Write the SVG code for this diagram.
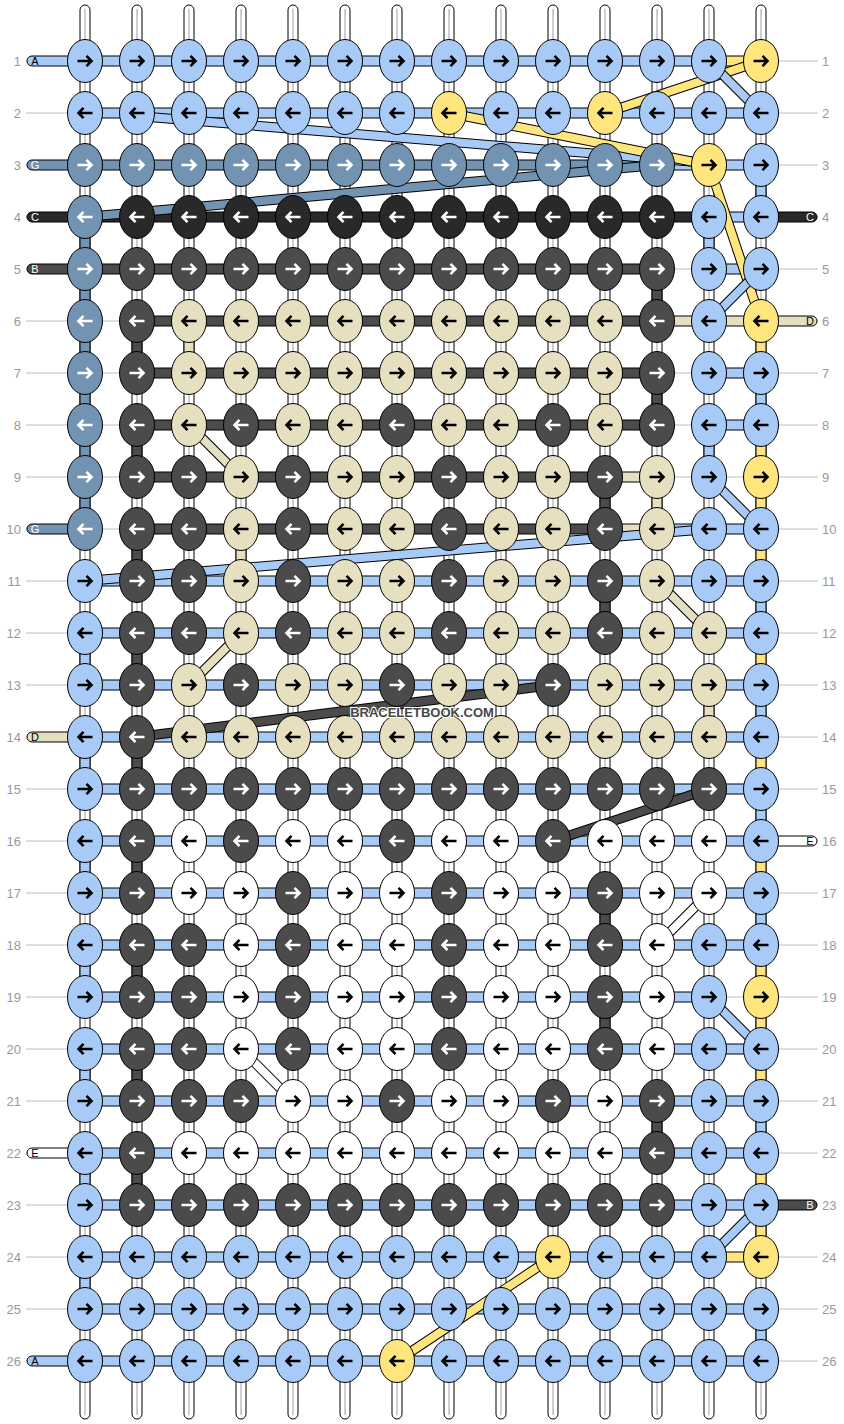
<svg xmlns="http://www.w3.org/2000/svg" xmlns:xlink="http://www.w3.org/1999/xlink" width="844" height="1424" viewBox="0 0 844 1424">
<style>
.A{fill:#a7cbf6}.Y{fill:#ffe57e}.G{fill:#7393b3}.C{fill:#292929}.B{fill:#4b4b4b}.D{fill:#e6dfc0}.E{fill:#fff}
ellipse{rx:17.5px;ry:21.5px;stroke:#000;stroke-width:1}
.s{stroke:#000;stroke-width:1}
use{stroke:#000}use.w{stroke:#fff}
.gl{stroke:#bdbdbd;stroke-width:1;fill:none}
.cl{stroke:#cfcfcf;stroke-width:2;fill:none}
.o{stroke:#000;stroke-width:10}
.sA{stroke:#a7cbf6;stroke-width:8}.sY{stroke:#ffe57e;stroke-width:8}.sG{stroke:#7393b3;stroke-width:8}.sB{stroke:#4b4b4b;stroke-width:8}.sD{stroke:#e6dfc0;stroke-width:8}.sE{stroke:#fff;stroke-width:8}
.num{font-family:"Liberation Sans",Arial,sans-serif;font-size:13px;fill:#999}
.lt{font-family:"Liberation Sans",Arial,sans-serif;font-size:11px;text-anchor:middle}
</style>
<defs>
<path id="R" d="M-7.5 0H6M1.5-5.2 6.5 0 1.5 5.2" fill="none" stroke-width="2.6"/>
<path id="L" d="M7.5 0H-6M-1.5-5.2-6.5 0-1.5 5.2" fill="none" stroke-width="2.6"/>
</defs>
<g id="warps">
<rect class="E s" x="80" y="5" width="10" height="1414" rx="5"/>
<rect class="E s" x="132" y="5" width="10" height="1414" rx="5"/>
<rect class="E s" x="184" y="5" width="10" height="1414" rx="5"/>
<rect class="E s" x="236" y="5" width="10" height="1414" rx="5"/>
<rect class="E s" x="288" y="5" width="10" height="1414" rx="5"/>
<rect class="E s" x="340" y="5" width="10" height="1414" rx="5"/>
<rect class="E s" x="392" y="5" width="10" height="1414" rx="5"/>
<rect class="E s" x="444" y="5" width="10" height="1414" rx="5"/>
<rect class="E s" x="496" y="5" width="10" height="1414" rx="5"/>
<rect class="E s" x="548" y="5" width="10" height="1414" rx="5"/>
<rect class="E s" x="600" y="5" width="10" height="1414" rx="5"/>
<rect class="E s" x="652" y="5" width="10" height="1414" rx="5"/>
<rect class="E s" x="704" y="5" width="10" height="1414" rx="5"/>
<rect class="E s" x="756" y="5" width="10" height="1414" rx="5"/>
<path class="cl" d="M85 9V1415M137 9V1415M189 9V1415M241 9V1415M293 9V1415M345 9V1415M397 9V1415M449 9V1415M501 9V1415M553 9V1415M605 9V1415M657 9V1415M709 9V1415M761 9V1415"/>
</g>
<g id="connectors">
<path class="gl" d="M26 61H818M26 113H818M26 165H818M26 217H818M26 269H818M26 321H818M26 373H818M26 425H818M26 477H818M26 529H818M26 581H818M26 633H818M26 685H818M26 737H818M26 789H818M26 841H818M26 893H818M26 945H818M26 997H818M26 1049H818M26 1101H818M26 1153H818M26 1205H818M26 1257H818M26 1309H818M26 1361H818"/>
<rect class="A s" x="27" y="56" width="682" height="10" rx="5"/>
<rect class="Y s" x="709" y="56" width="52" height="10"/>
<rect class="A s" x="85" y="108" width="676" height="10"/>
<rect class="G s" x="27" y="160" width="630" height="10" rx="5"/>
<rect class="A s" x="657" y="160" width="104" height="10"/>
<rect class="C s" x="27" y="212" width="682" height="10" rx="5"/>
<rect class="A s" x="709" y="212" width="52" height="10"/>
<rect class="C s" x="755" y="212" width="62" height="10" rx="5"/>
<rect class="B s" x="27" y="264" width="630" height="10" rx="5"/>
<rect class="A s" x="709" y="264" width="52" height="10"/>
<rect class="B s" x="137" y="316" width="520" height="10"/>
<rect class="D s" x="657" y="316" width="160" height="10" rx="5"/>
<rect class="B s" x="137" y="368" width="520" height="10"/>
<rect class="A s" x="709" y="368" width="52" height="10"/>
<rect class="B s" x="137" y="420" width="520" height="10"/>
<rect class="A s" x="709" y="420" width="52" height="10"/>
<rect class="B s" x="137" y="472" width="468" height="10"/>
<rect class="D s" x="605" y="472" width="52" height="10"/>
<rect class="G s" x="27" y="524" width="60" height="10" rx="5"/>
<rect class="B s" x="137" y="524" width="468" height="10"/>
<rect class="D s" x="605" y="524" width="52" height="10"/>
<rect class="A s" x="657" y="524" width="104" height="10"/>
<rect class="A s" x="85" y="576" width="676" height="10"/>
<rect class="A s" x="85" y="628" width="676" height="10"/>
<rect class="A s" x="85" y="680" width="676" height="10"/>
<rect class="D s" x="27" y="732" width="60" height="10" rx="5"/>
<rect class="A s" x="85" y="732" width="676" height="10"/>
<rect class="A s" x="85" y="784" width="676" height="10"/>
<rect class="A s" x="85" y="836" width="676" height="10"/>
<rect class="E s" x="755" y="836" width="62" height="10" rx="5"/>
<rect class="A s" x="85" y="888" width="676" height="10"/>
<rect class="A s" x="85" y="940" width="676" height="10"/>
<rect class="A s" x="85" y="992" width="624" height="10"/>
<rect class="A s" x="85" y="1044" width="676" height="10"/>
<rect class="A s" x="85" y="1096" width="676" height="10"/>
<rect class="E s" x="27" y="1148" width="60" height="10" rx="5"/>
<rect class="A s" x="85" y="1148" width="676" height="10"/>
<rect class="A s" x="85" y="1200" width="676" height="10"/>
<rect class="B s" x="755" y="1200" width="62" height="10" rx="5"/>
<rect class="A s" x="85" y="1252" width="624" height="10"/>
<rect class="Y s" x="709" y="1252" width="52" height="10"/>
<rect class="A s" x="85" y="1304" width="676" height="10"/>
<rect class="A s" x="27" y="1356" width="734" height="10" rx="5"/>
<rect class="G s" x="80" y="217" width="10" height="312"/>
<rect class="A s" x="80" y="633" width="10" height="52"/>
<rect class="A s" x="80" y="737" width="10" height="52"/>
<rect class="A s" x="80" y="841" width="10" height="52"/>
<rect class="A s" x="80" y="945" width="10" height="52"/>
<rect class="A s" x="80" y="1049" width="10" height="52"/>
<rect class="A s" x="80" y="1153" width="10" height="52"/>
<rect class="A s" x="80" y="1257" width="10" height="52"/>
<rect class="B s" x="132" y="321" width="10" height="52"/>
<rect class="B s" x="132" y="425" width="10" height="52"/>
<rect class="B s" x="132" y="529" width="10" height="52"/>
<rect class="B s" x="132" y="633" width="10" height="52"/>
<rect class="B s" x="132" y="737" width="10" height="52"/>
<rect class="B s" x="132" y="841" width="10" height="52"/>
<rect class="B s" x="132" y="945" width="10" height="52"/>
<rect class="B s" x="132" y="1049" width="10" height="52"/>
<rect class="B s" x="132" y="1153" width="10" height="52"/>
<rect class="D s" x="184" y="321" width="10" height="52"/>
<rect class="D s" x="236" y="529" width="10" height="52"/>
<rect class="D s" x="600" y="373" width="10" height="52"/>
<rect class="B s" x="600" y="477" width="10" height="52"/>
<rect class="B s" x="600" y="581" width="10" height="52"/>
<rect class="B s" x="600" y="893" width="10" height="52"/>
<rect class="B s" x="600" y="997" width="10" height="52"/>
<rect class="B s" x="652" y="269" width="10" height="52"/>
<rect class="B s" x="652" y="373" width="10" height="52"/>
<rect class="B s" x="652" y="1101" width="10" height="52"/>
<rect class="D s" x="652" y="477" width="10" height="52"/>
<rect class="A s" x="704" y="217" width="10" height="52"/>
<rect class="A s" x="704" y="425" width="10" height="52"/>
<rect class="D s" x="704" y="685" width="10" height="52"/>
<rect class="A s" x="756" y="165" width="10" height="52"/>
<rect class="A s" x="756" y="373" width="10" height="52"/>
<rect class="A s" x="756" y="581" width="10" height="52"/>
<rect class="A s" x="756" y="685" width="10" height="52"/>
<rect class="A s" x="756" y="789" width="10" height="52"/>
<rect class="A s" x="756" y="893" width="10" height="52"/>
<rect class="A s" x="756" y="1101" width="10" height="52"/>
<rect class="A s" x="756" y="1309" width="10" height="52"/>
<rect class="Y s" x="756" y="321" width="10" height="52"/>
<rect class="Y s" x="756" y="425" width="10" height="156"/>
<rect class="Y s" x="756" y="633" width="10" height="52"/>
<rect class="Y s" x="756" y="737" width="10" height="52"/>
<rect class="Y s" x="756" y="841" width="10" height="52"/>
<rect class="Y s" x="756" y="945" width="10" height="156"/>
<rect class="Y s" x="756" y="1153" width="10" height="104"/>
<line class="o" x1="761" y1="61" x2="605" y2="113"/><line class="sY" x1="761" y1="61" x2="605" y2="113"/>
<line class="o" x1="709" y1="61" x2="761" y2="113"/><line class="sA" x1="709" y1="61" x2="761" y2="113"/>
<line class="o" x1="137" y1="116" x2="709" y2="163"/><line class="sA" x1="137" y1="116" x2="709" y2="163"/>
<line class="o" x1="449" y1="113" x2="709" y2="165"/><line class="sY" x1="449" y1="113" x2="709" y2="165"/>
<line class="o" x1="657" y1="165" x2="85" y2="217"/><line class="sG" x1="657" y1="165" x2="85" y2="217"/>
<line class="o" x1="709" y1="165" x2="761" y2="321"/><line class="sY" x1="709" y1="165" x2="761" y2="321"/>
<line class="o" x1="761" y1="269" x2="709" y2="321"/><line class="sA" x1="761" y1="269" x2="709" y2="321"/>
<line class="o" x1="189" y1="425" x2="241" y2="477"/><line class="sD" x1="189" y1="425" x2="241" y2="477"/>
<line class="o" x1="709" y1="477" x2="761" y2="529"/><line class="sA" x1="709" y1="477" x2="761" y2="529"/>
<line class="o" x1="709" y1="529" x2="85" y2="581"/><line class="sA" x1="709" y1="529" x2="85" y2="581"/>
<line class="o" x1="657" y1="581" x2="709" y2="633"/><line class="sD" x1="657" y1="581" x2="709" y2="633"/>
<line class="o" x1="241" y1="633" x2="189" y2="685"/><line class="sD" x1="241" y1="633" x2="189" y2="685"/>
<line class="o" x1="137" y1="737" x2="553" y2="685"/><line class="sB" x1="137" y1="737" x2="553" y2="685"/>
<line class="o" x1="709" y1="789" x2="553" y2="841"/><line class="sB" x1="709" y1="789" x2="553" y2="841"/>
<line class="o" x1="709" y1="893" x2="657" y2="945"/><line class="sE" x1="709" y1="893" x2="657" y2="945"/>
<line class="o" x1="709" y1="997" x2="761" y2="1049"/><line class="sA" x1="709" y1="997" x2="761" y2="1049"/>
<line class="o" x1="241" y1="1049" x2="293" y2="1101"/><line class="sE" x1="241" y1="1049" x2="293" y2="1101"/>
<line class="o" x1="761" y1="1205" x2="709" y2="1257"/><line class="sA" x1="761" y1="1205" x2="709" y2="1257"/>
<line class="o" x1="553" y1="1257" x2="397" y2="1361"/><line class="sY" x1="553" y1="1257" x2="397" y2="1361"/>
</g>
<g id="knots">
<g id="row1" transform="translate(0 61)">
<g id="k1-1"><ellipse class="A" cx="85"/><use href="#R" x="85"/></g>
<g id="k1-2"><ellipse class="A" cx="137"/><use href="#R" x="137"/></g>
<g id="k1-3"><ellipse class="A" cx="189"/><use href="#R" x="189"/></g>
<g id="k1-4"><ellipse class="A" cx="241"/><use href="#R" x="241"/></g>
<g id="k1-5"><ellipse class="A" cx="293"/><use href="#R" x="293"/></g>
<g id="k1-6"><ellipse class="A" cx="345"/><use href="#R" x="345"/></g>
<g id="k1-7"><ellipse class="A" cx="397"/><use href="#R" x="397"/></g>
<g id="k1-8"><ellipse class="A" cx="449"/><use href="#R" x="449"/></g>
<g id="k1-9"><ellipse class="A" cx="501"/><use href="#R" x="501"/></g>
<g id="k1-10"><ellipse class="A" cx="553"/><use href="#R" x="553"/></g>
<g id="k1-11"><ellipse class="A" cx="605"/><use href="#R" x="605"/></g>
<g id="k1-12"><ellipse class="A" cx="657"/><use href="#R" x="657"/></g>
<g id="k1-13"><ellipse class="A" cx="709"/><use href="#R" x="709"/></g>
<g id="k1-14"><ellipse class="Y" cx="761"/><use href="#R" x="761"/></g>
</g>
<g id="row2" transform="translate(0 113)">
<g id="k2-1"><ellipse class="A" cx="85"/><use href="#L" x="85"/></g>
<g id="k2-2"><ellipse class="A" cx="137"/><use href="#L" x="137"/></g>
<g id="k2-3"><ellipse class="A" cx="189"/><use href="#L" x="189"/></g>
<g id="k2-4"><ellipse class="A" cx="241"/><use href="#L" x="241"/></g>
<g id="k2-5"><ellipse class="A" cx="293"/><use href="#L" x="293"/></g>
<g id="k2-6"><ellipse class="A" cx="345"/><use href="#L" x="345"/></g>
<g id="k2-7"><ellipse class="A" cx="397"/><use href="#L" x="397"/></g>
<g id="k2-8"><ellipse class="Y" cx="449"/><use href="#L" x="449"/></g>
<g id="k2-9"><ellipse class="A" cx="501"/><use href="#L" x="501"/></g>
<g id="k2-10"><ellipse class="A" cx="553"/><use href="#L" x="553"/></g>
<g id="k2-11"><ellipse class="Y" cx="605"/><use href="#L" x="605"/></g>
<g id="k2-12"><ellipse class="A" cx="657"/><use href="#L" x="657"/></g>
<g id="k2-13"><ellipse class="A" cx="709"/><use href="#L" x="709"/></g>
<g id="k2-14"><ellipse class="A" cx="761"/><use href="#L" x="761"/></g>
</g>
<g id="row3" transform="translate(0 165)">
<g id="k3-1"><ellipse class="G" cx="85"/><use class="w" href="#R" x="85"/></g>
<g id="k3-2"><ellipse class="G" cx="137"/><use class="w" href="#R" x="137"/></g>
<g id="k3-3"><ellipse class="G" cx="189"/><use class="w" href="#R" x="189"/></g>
<g id="k3-4"><ellipse class="G" cx="241"/><use class="w" href="#R" x="241"/></g>
<g id="k3-5"><ellipse class="G" cx="293"/><use class="w" href="#R" x="293"/></g>
<g id="k3-6"><ellipse class="G" cx="345"/><use class="w" href="#R" x="345"/></g>
<g id="k3-7"><ellipse class="G" cx="397"/><use class="w" href="#R" x="397"/></g>
<g id="k3-8"><ellipse class="G" cx="449"/><use class="w" href="#R" x="449"/></g>
<g id="k3-9"><ellipse class="G" cx="501"/><use class="w" href="#R" x="501"/></g>
<g id="k3-10"><ellipse class="G" cx="553"/><use class="w" href="#R" x="553"/></g>
<g id="k3-11"><ellipse class="G" cx="605"/><use class="w" href="#R" x="605"/></g>
<g id="k3-12"><ellipse class="G" cx="657"/><use class="w" href="#R" x="657"/></g>
<g id="k3-13"><ellipse class="Y" cx="709"/><use href="#R" x="709"/></g>
<g id="k3-14"><ellipse class="A" cx="761"/><use href="#R" x="761"/></g>
</g>
<g id="row4" transform="translate(0 217)">
<g id="k4-1"><ellipse class="G" cx="85"/><use class="w" href="#L" x="85"/></g>
<g id="k4-2"><ellipse class="C" cx="137"/><use class="w" href="#L" x="137"/></g>
<g id="k4-3"><ellipse class="C" cx="189"/><use class="w" href="#L" x="189"/></g>
<g id="k4-4"><ellipse class="C" cx="241"/><use class="w" href="#L" x="241"/></g>
<g id="k4-5"><ellipse class="C" cx="293"/><use class="w" href="#L" x="293"/></g>
<g id="k4-6"><ellipse class="C" cx="345"/><use class="w" href="#L" x="345"/></g>
<g id="k4-7"><ellipse class="C" cx="397"/><use class="w" href="#L" x="397"/></g>
<g id="k4-8"><ellipse class="C" cx="449"/><use class="w" href="#L" x="449"/></g>
<g id="k4-9"><ellipse class="C" cx="501"/><use class="w" href="#L" x="501"/></g>
<g id="k4-10"><ellipse class="C" cx="553"/><use class="w" href="#L" x="553"/></g>
<g id="k4-11"><ellipse class="C" cx="605"/><use class="w" href="#L" x="605"/></g>
<g id="k4-12"><ellipse class="C" cx="657"/><use class="w" href="#L" x="657"/></g>
<g id="k4-13"><ellipse class="A" cx="709"/><use href="#L" x="709"/></g>
<g id="k4-14"><ellipse class="A" cx="761"/><use href="#L" x="761"/></g>
</g>
<g id="row5" transform="translate(0 269)">
<g id="k5-1"><ellipse class="G" cx="85"/><use class="w" href="#R" x="85"/></g>
<g id="k5-2"><ellipse class="B" cx="137"/><use class="w" href="#R" x="137"/></g>
<g id="k5-3"><ellipse class="B" cx="189"/><use class="w" href="#R" x="189"/></g>
<g id="k5-4"><ellipse class="B" cx="241"/><use class="w" href="#R" x="241"/></g>
<g id="k5-5"><ellipse class="B" cx="293"/><use class="w" href="#R" x="293"/></g>
<g id="k5-6"><ellipse class="B" cx="345"/><use class="w" href="#R" x="345"/></g>
<g id="k5-7"><ellipse class="B" cx="397"/><use class="w" href="#R" x="397"/></g>
<g id="k5-8"><ellipse class="B" cx="449"/><use class="w" href="#R" x="449"/></g>
<g id="k5-9"><ellipse class="B" cx="501"/><use class="w" href="#R" x="501"/></g>
<g id="k5-10"><ellipse class="B" cx="553"/><use class="w" href="#R" x="553"/></g>
<g id="k5-11"><ellipse class="B" cx="605"/><use class="w" href="#R" x="605"/></g>
<g id="k5-12"><ellipse class="B" cx="657"/><use class="w" href="#R" x="657"/></g>
<g id="k5-13"><ellipse class="A" cx="709"/><use href="#R" x="709"/></g>
<g id="k5-14"><ellipse class="A" cx="761"/><use href="#R" x="761"/></g>
</g>
<g id="row6" transform="translate(0 321)">
<g id="k6-1"><ellipse class="G" cx="85"/><use class="w" href="#L" x="85"/></g>
<g id="k6-2"><ellipse class="B" cx="137"/><use class="w" href="#L" x="137"/></g>
<g id="k6-3"><ellipse class="D" cx="189"/><use href="#L" x="189"/></g>
<g id="k6-4"><ellipse class="D" cx="241"/><use href="#L" x="241"/></g>
<g id="k6-5"><ellipse class="D" cx="293"/><use href="#L" x="293"/></g>
<g id="k6-6"><ellipse class="D" cx="345"/><use href="#L" x="345"/></g>
<g id="k6-7"><ellipse class="D" cx="397"/><use href="#L" x="397"/></g>
<g id="k6-8"><ellipse class="D" cx="449"/><use href="#L" x="449"/></g>
<g id="k6-9"><ellipse class="D" cx="501"/><use href="#L" x="501"/></g>
<g id="k6-10"><ellipse class="D" cx="553"/><use href="#L" x="553"/></g>
<g id="k6-11"><ellipse class="D" cx="605"/><use href="#L" x="605"/></g>
<g id="k6-12"><ellipse class="B" cx="657"/><use class="w" href="#L" x="657"/></g>
<g id="k6-13"><ellipse class="A" cx="709"/><use href="#L" x="709"/></g>
<g id="k6-14"><ellipse class="Y" cx="761"/><use href="#L" x="761"/></g>
</g>
<g id="row7" transform="translate(0 373)">
<g id="k7-1"><ellipse class="G" cx="85"/><use class="w" href="#R" x="85"/></g>
<g id="k7-2"><ellipse class="B" cx="137"/><use class="w" href="#R" x="137"/></g>
<g id="k7-3"><ellipse class="D" cx="189"/><use href="#R" x="189"/></g>
<g id="k7-4"><ellipse class="D" cx="241"/><use href="#R" x="241"/></g>
<g id="k7-5"><ellipse class="D" cx="293"/><use href="#R" x="293"/></g>
<g id="k7-6"><ellipse class="D" cx="345"/><use href="#R" x="345"/></g>
<g id="k7-7"><ellipse class="D" cx="397"/><use href="#R" x="397"/></g>
<g id="k7-8"><ellipse class="D" cx="449"/><use href="#R" x="449"/></g>
<g id="k7-9"><ellipse class="D" cx="501"/><use href="#R" x="501"/></g>
<g id="k7-10"><ellipse class="D" cx="553"/><use href="#R" x="553"/></g>
<g id="k7-11"><ellipse class="D" cx="605"/><use href="#R" x="605"/></g>
<g id="k7-12"><ellipse class="B" cx="657"/><use class="w" href="#R" x="657"/></g>
<g id="k7-13"><ellipse class="A" cx="709"/><use href="#R" x="709"/></g>
<g id="k7-14"><ellipse class="A" cx="761"/><use href="#R" x="761"/></g>
</g>
<g id="row8" transform="translate(0 425)">
<g id="k8-1"><ellipse class="G" cx="85"/><use class="w" href="#L" x="85"/></g>
<g id="k8-2"><ellipse class="B" cx="137"/><use class="w" href="#L" x="137"/></g>
<g id="k8-3"><ellipse class="D" cx="189"/><use href="#L" x="189"/></g>
<g id="k8-4"><ellipse class="B" cx="241"/><use class="w" href="#L" x="241"/></g>
<g id="k8-5"><ellipse class="D" cx="293"/><use href="#L" x="293"/></g>
<g id="k8-6"><ellipse class="D" cx="345"/><use href="#L" x="345"/></g>
<g id="k8-7"><ellipse class="B" cx="397"/><use class="w" href="#L" x="397"/></g>
<g id="k8-8"><ellipse class="D" cx="449"/><use href="#L" x="449"/></g>
<g id="k8-9"><ellipse class="D" cx="501"/><use href="#L" x="501"/></g>
<g id="k8-10"><ellipse class="B" cx="553"/><use class="w" href="#L" x="553"/></g>
<g id="k8-11"><ellipse class="D" cx="605"/><use href="#L" x="605"/></g>
<g id="k8-12"><ellipse class="B" cx="657"/><use class="w" href="#L" x="657"/></g>
<g id="k8-13"><ellipse class="A" cx="709"/><use href="#L" x="709"/></g>
<g id="k8-14"><ellipse class="A" cx="761"/><use href="#L" x="761"/></g>
</g>
<g id="row9" transform="translate(0 477)">
<g id="k9-1"><ellipse class="G" cx="85"/><use class="w" href="#R" x="85"/></g>
<g id="k9-2"><ellipse class="B" cx="137"/><use class="w" href="#R" x="137"/></g>
<g id="k9-3"><ellipse class="B" cx="189"/><use class="w" href="#R" x="189"/></g>
<g id="k9-4"><ellipse class="D" cx="241"/><use href="#R" x="241"/></g>
<g id="k9-5"><ellipse class="B" cx="293"/><use class="w" href="#R" x="293"/></g>
<g id="k9-6"><ellipse class="D" cx="345"/><use href="#R" x="345"/></g>
<g id="k9-7"><ellipse class="D" cx="397"/><use href="#R" x="397"/></g>
<g id="k9-8"><ellipse class="B" cx="449"/><use class="w" href="#R" x="449"/></g>
<g id="k9-9"><ellipse class="D" cx="501"/><use href="#R" x="501"/></g>
<g id="k9-10"><ellipse class="D" cx="553"/><use href="#R" x="553"/></g>
<g id="k9-11"><ellipse class="B" cx="605"/><use class="w" href="#R" x="605"/></g>
<g id="k9-12"><ellipse class="D" cx="657"/><use href="#R" x="657"/></g>
<g id="k9-13"><ellipse class="A" cx="709"/><use href="#R" x="709"/></g>
<g id="k9-14"><ellipse class="Y" cx="761"/><use href="#R" x="761"/></g>
</g>
<g id="row10" transform="translate(0 529)">
<g id="k10-1"><ellipse class="G" cx="85"/><use class="w" href="#L" x="85"/></g>
<g id="k10-2"><ellipse class="B" cx="137"/><use class="w" href="#L" x="137"/></g>
<g id="k10-3"><ellipse class="B" cx="189"/><use class="w" href="#L" x="189"/></g>
<g id="k10-4"><ellipse class="D" cx="241"/><use href="#L" x="241"/></g>
<g id="k10-5"><ellipse class="B" cx="293"/><use class="w" href="#L" x="293"/></g>
<g id="k10-6"><ellipse class="D" cx="345"/><use href="#L" x="345"/></g>
<g id="k10-7"><ellipse class="D" cx="397"/><use href="#L" x="397"/></g>
<g id="k10-8"><ellipse class="B" cx="449"/><use class="w" href="#L" x="449"/></g>
<g id="k10-9"><ellipse class="D" cx="501"/><use href="#L" x="501"/></g>
<g id="k10-10"><ellipse class="D" cx="553"/><use href="#L" x="553"/></g>
<g id="k10-11"><ellipse class="B" cx="605"/><use class="w" href="#L" x="605"/></g>
<g id="k10-12"><ellipse class="D" cx="657"/><use href="#L" x="657"/></g>
<g id="k10-13"><ellipse class="A" cx="709"/><use href="#L" x="709"/></g>
<g id="k10-14"><ellipse class="A" cx="761"/><use href="#L" x="761"/></g>
</g>
<g id="row11" transform="translate(0 581)">
<g id="k11-1"><ellipse class="A" cx="85"/><use href="#R" x="85"/></g>
<g id="k11-2"><ellipse class="B" cx="137"/><use class="w" href="#R" x="137"/></g>
<g id="k11-3"><ellipse class="B" cx="189"/><use class="w" href="#R" x="189"/></g>
<g id="k11-4"><ellipse class="D" cx="241"/><use href="#R" x="241"/></g>
<g id="k11-5"><ellipse class="B" cx="293"/><use class="w" href="#R" x="293"/></g>
<g id="k11-6"><ellipse class="D" cx="345"/><use href="#R" x="345"/></g>
<g id="k11-7"><ellipse class="D" cx="397"/><use href="#R" x="397"/></g>
<g id="k11-8"><ellipse class="B" cx="449"/><use class="w" href="#R" x="449"/></g>
<g id="k11-9"><ellipse class="D" cx="501"/><use href="#R" x="501"/></g>
<g id="k11-10"><ellipse class="D" cx="553"/><use href="#R" x="553"/></g>
<g id="k11-11"><ellipse class="B" cx="605"/><use class="w" href="#R" x="605"/></g>
<g id="k11-12"><ellipse class="D" cx="657"/><use href="#R" x="657"/></g>
<g id="k11-13"><ellipse class="A" cx="709"/><use href="#R" x="709"/></g>
<g id="k11-14"><ellipse class="A" cx="761"/><use href="#R" x="761"/></g>
</g>
<g id="row12" transform="translate(0 633)">
<g id="k12-1"><ellipse class="A" cx="85"/><use href="#L" x="85"/></g>
<g id="k12-2"><ellipse class="B" cx="137"/><use class="w" href="#L" x="137"/></g>
<g id="k12-3"><ellipse class="B" cx="189"/><use class="w" href="#L" x="189"/></g>
<g id="k12-4"><ellipse class="D" cx="241"/><use href="#L" x="241"/></g>
<g id="k12-5"><ellipse class="B" cx="293"/><use class="w" href="#L" x="293"/></g>
<g id="k12-6"><ellipse class="D" cx="345"/><use href="#L" x="345"/></g>
<g id="k12-7"><ellipse class="D" cx="397"/><use href="#L" x="397"/></g>
<g id="k12-8"><ellipse class="B" cx="449"/><use class="w" href="#L" x="449"/></g>
<g id="k12-9"><ellipse class="D" cx="501"/><use href="#L" x="501"/></g>
<g id="k12-10"><ellipse class="D" cx="553"/><use href="#L" x="553"/></g>
<g id="k12-11"><ellipse class="B" cx="605"/><use class="w" href="#L" x="605"/></g>
<g id="k12-12"><ellipse class="D" cx="657"/><use href="#L" x="657"/></g>
<g id="k12-13"><ellipse class="D" cx="709"/><use href="#L" x="709"/></g>
<g id="k12-14"><ellipse class="A" cx="761"/><use href="#L" x="761"/></g>
</g>
<g id="row13" transform="translate(0 685)">
<g id="k13-1"><ellipse class="A" cx="85"/><use href="#R" x="85"/></g>
<g id="k13-2"><ellipse class="B" cx="137"/><use class="w" href="#R" x="137"/></g>
<g id="k13-3"><ellipse class="D" cx="189"/><use href="#R" x="189"/></g>
<g id="k13-4"><ellipse class="B" cx="241"/><use class="w" href="#R" x="241"/></g>
<g id="k13-5"><ellipse class="D" cx="293"/><use href="#R" x="293"/></g>
<g id="k13-6"><ellipse class="D" cx="345"/><use href="#R" x="345"/></g>
<g id="k13-7"><ellipse class="B" cx="397"/><use class="w" href="#R" x="397"/></g>
<g id="k13-8"><ellipse class="D" cx="449"/><use href="#R" x="449"/></g>
<g id="k13-9"><ellipse class="D" cx="501"/><use href="#R" x="501"/></g>
<g id="k13-10"><ellipse class="B" cx="553"/><use class="w" href="#R" x="553"/></g>
<g id="k13-11"><ellipse class="D" cx="605"/><use href="#R" x="605"/></g>
<g id="k13-12"><ellipse class="D" cx="657"/><use href="#R" x="657"/></g>
<g id="k13-13"><ellipse class="D" cx="709"/><use href="#R" x="709"/></g>
<g id="k13-14"><ellipse class="A" cx="761"/><use href="#R" x="761"/></g>
</g>
<g id="row14" transform="translate(0 737)">
<g id="k14-1"><ellipse class="A" cx="85"/><use href="#L" x="85"/></g>
<g id="k14-2"><ellipse class="B" cx="137"/><use class="w" href="#L" x="137"/></g>
<g id="k14-3"><ellipse class="D" cx="189"/><use href="#L" x="189"/></g>
<g id="k14-4"><ellipse class="D" cx="241"/><use href="#L" x="241"/></g>
<g id="k14-5"><ellipse class="D" cx="293"/><use href="#L" x="293"/></g>
<g id="k14-6"><ellipse class="D" cx="345"/><use href="#L" x="345"/></g>
<g id="k14-7"><ellipse class="D" cx="397"/><use href="#L" x="397"/></g>
<g id="k14-8"><ellipse class="D" cx="449"/><use href="#L" x="449"/></g>
<g id="k14-9"><ellipse class="D" cx="501"/><use href="#L" x="501"/></g>
<g id="k14-10"><ellipse class="D" cx="553"/><use href="#L" x="553"/></g>
<g id="k14-11"><ellipse class="D" cx="605"/><use href="#L" x="605"/></g>
<g id="k14-12"><ellipse class="D" cx="657"/><use href="#L" x="657"/></g>
<g id="k14-13"><ellipse class="D" cx="709"/><use href="#L" x="709"/></g>
<g id="k14-14"><ellipse class="A" cx="761"/><use href="#L" x="761"/></g>
</g>
<g id="row15" transform="translate(0 789)">
<g id="k15-1"><ellipse class="A" cx="85"/><use href="#R" x="85"/></g>
<g id="k15-2"><ellipse class="B" cx="137"/><use class="w" href="#R" x="137"/></g>
<g id="k15-3"><ellipse class="B" cx="189"/><use class="w" href="#R" x="189"/></g>
<g id="k15-4"><ellipse class="B" cx="241"/><use class="w" href="#R" x="241"/></g>
<g id="k15-5"><ellipse class="B" cx="293"/><use class="w" href="#R" x="293"/></g>
<g id="k15-6"><ellipse class="B" cx="345"/><use class="w" href="#R" x="345"/></g>
<g id="k15-7"><ellipse class="B" cx="397"/><use class="w" href="#R" x="397"/></g>
<g id="k15-8"><ellipse class="B" cx="449"/><use class="w" href="#R" x="449"/></g>
<g id="k15-9"><ellipse class="B" cx="501"/><use class="w" href="#R" x="501"/></g>
<g id="k15-10"><ellipse class="B" cx="553"/><use class="w" href="#R" x="553"/></g>
<g id="k15-11"><ellipse class="B" cx="605"/><use class="w" href="#R" x="605"/></g>
<g id="k15-12"><ellipse class="B" cx="657"/><use class="w" href="#R" x="657"/></g>
<g id="k15-13"><ellipse class="B" cx="709"/><use class="w" href="#R" x="709"/></g>
<g id="k15-14"><ellipse class="A" cx="761"/><use href="#R" x="761"/></g>
</g>
<g id="row16" transform="translate(0 841)">
<g id="k16-1"><ellipse class="A" cx="85"/><use href="#L" x="85"/></g>
<g id="k16-2"><ellipse class="B" cx="137"/><use class="w" href="#L" x="137"/></g>
<g id="k16-3"><ellipse class="E" cx="189"/><use href="#L" x="189"/></g>
<g id="k16-4"><ellipse class="B" cx="241"/><use class="w" href="#L" x="241"/></g>
<g id="k16-5"><ellipse class="E" cx="293"/><use href="#L" x="293"/></g>
<g id="k16-6"><ellipse class="E" cx="345"/><use href="#L" x="345"/></g>
<g id="k16-7"><ellipse class="B" cx="397"/><use class="w" href="#L" x="397"/></g>
<g id="k16-8"><ellipse class="E" cx="449"/><use href="#L" x="449"/></g>
<g id="k16-9"><ellipse class="E" cx="501"/><use href="#L" x="501"/></g>
<g id="k16-10"><ellipse class="B" cx="553"/><use class="w" href="#L" x="553"/></g>
<g id="k16-11"><ellipse class="E" cx="605"/><use href="#L" x="605"/></g>
<g id="k16-12"><ellipse class="E" cx="657"/><use href="#L" x="657"/></g>
<g id="k16-13"><ellipse class="E" cx="709"/><use href="#L" x="709"/></g>
<g id="k16-14"><ellipse class="A" cx="761"/><use href="#L" x="761"/></g>
</g>
<g id="row17" transform="translate(0 893)">
<g id="k17-1"><ellipse class="A" cx="85"/><use href="#R" x="85"/></g>
<g id="k17-2"><ellipse class="B" cx="137"/><use class="w" href="#R" x="137"/></g>
<g id="k17-3"><ellipse class="E" cx="189"/><use href="#R" x="189"/></g>
<g id="k17-4"><ellipse class="E" cx="241"/><use href="#R" x="241"/></g>
<g id="k17-5"><ellipse class="B" cx="293"/><use class="w" href="#R" x="293"/></g>
<g id="k17-6"><ellipse class="E" cx="345"/><use href="#R" x="345"/></g>
<g id="k17-7"><ellipse class="E" cx="397"/><use href="#R" x="397"/></g>
<g id="k17-8"><ellipse class="B" cx="449"/><use class="w" href="#R" x="449"/></g>
<g id="k17-9"><ellipse class="E" cx="501"/><use href="#R" x="501"/></g>
<g id="k17-10"><ellipse class="E" cx="553"/><use href="#R" x="553"/></g>
<g id="k17-11"><ellipse class="B" cx="605"/><use class="w" href="#R" x="605"/></g>
<g id="k17-12"><ellipse class="E" cx="657"/><use href="#R" x="657"/></g>
<g id="k17-13"><ellipse class="E" cx="709"/><use href="#R" x="709"/></g>
<g id="k17-14"><ellipse class="A" cx="761"/><use href="#R" x="761"/></g>
</g>
<g id="row18" transform="translate(0 945)">
<g id="k18-1"><ellipse class="A" cx="85"/><use href="#L" x="85"/></g>
<g id="k18-2"><ellipse class="B" cx="137"/><use class="w" href="#L" x="137"/></g>
<g id="k18-3"><ellipse class="B" cx="189"/><use class="w" href="#L" x="189"/></g>
<g id="k18-4"><ellipse class="E" cx="241"/><use href="#L" x="241"/></g>
<g id="k18-5"><ellipse class="B" cx="293"/><use class="w" href="#L" x="293"/></g>
<g id="k18-6"><ellipse class="E" cx="345"/><use href="#L" x="345"/></g>
<g id="k18-7"><ellipse class="E" cx="397"/><use href="#L" x="397"/></g>
<g id="k18-8"><ellipse class="B" cx="449"/><use class="w" href="#L" x="449"/></g>
<g id="k18-9"><ellipse class="E" cx="501"/><use href="#L" x="501"/></g>
<g id="k18-10"><ellipse class="E" cx="553"/><use href="#L" x="553"/></g>
<g id="k18-11"><ellipse class="B" cx="605"/><use class="w" href="#L" x="605"/></g>
<g id="k18-12"><ellipse class="E" cx="657"/><use href="#L" x="657"/></g>
<g id="k18-13"><ellipse class="A" cx="709"/><use href="#L" x="709"/></g>
<g id="k18-14"><ellipse class="A" cx="761"/><use href="#L" x="761"/></g>
</g>
<g id="row19" transform="translate(0 997)">
<g id="k19-1"><ellipse class="A" cx="85"/><use href="#R" x="85"/></g>
<g id="k19-2"><ellipse class="B" cx="137"/><use class="w" href="#R" x="137"/></g>
<g id="k19-3"><ellipse class="B" cx="189"/><use class="w" href="#R" x="189"/></g>
<g id="k19-4"><ellipse class="E" cx="241"/><use href="#R" x="241"/></g>
<g id="k19-5"><ellipse class="B" cx="293"/><use class="w" href="#R" x="293"/></g>
<g id="k19-6"><ellipse class="E" cx="345"/><use href="#R" x="345"/></g>
<g id="k19-7"><ellipse class="E" cx="397"/><use href="#R" x="397"/></g>
<g id="k19-8"><ellipse class="B" cx="449"/><use class="w" href="#R" x="449"/></g>
<g id="k19-9"><ellipse class="E" cx="501"/><use href="#R" x="501"/></g>
<g id="k19-10"><ellipse class="E" cx="553"/><use href="#R" x="553"/></g>
<g id="k19-11"><ellipse class="B" cx="605"/><use class="w" href="#R" x="605"/></g>
<g id="k19-12"><ellipse class="E" cx="657"/><use href="#R" x="657"/></g>
<g id="k19-13"><ellipse class="A" cx="709"/><use href="#R" x="709"/></g>
<g id="k19-14"><ellipse class="Y" cx="761"/><use href="#R" x="761"/></g>
</g>
<g id="row20" transform="translate(0 1049)">
<g id="k20-1"><ellipse class="A" cx="85"/><use href="#L" x="85"/></g>
<g id="k20-2"><ellipse class="B" cx="137"/><use class="w" href="#L" x="137"/></g>
<g id="k20-3"><ellipse class="B" cx="189"/><use class="w" href="#L" x="189"/></g>
<g id="k20-4"><ellipse class="E" cx="241"/><use href="#L" x="241"/></g>
<g id="k20-5"><ellipse class="B" cx="293"/><use class="w" href="#L" x="293"/></g>
<g id="k20-6"><ellipse class="E" cx="345"/><use href="#L" x="345"/></g>
<g id="k20-7"><ellipse class="E" cx="397"/><use href="#L" x="397"/></g>
<g id="k20-8"><ellipse class="B" cx="449"/><use class="w" href="#L" x="449"/></g>
<g id="k20-9"><ellipse class="E" cx="501"/><use href="#L" x="501"/></g>
<g id="k20-10"><ellipse class="E" cx="553"/><use href="#L" x="553"/></g>
<g id="k20-11"><ellipse class="B" cx="605"/><use class="w" href="#L" x="605"/></g>
<g id="k20-12"><ellipse class="E" cx="657"/><use href="#L" x="657"/></g>
<g id="k20-13"><ellipse class="A" cx="709"/><use href="#L" x="709"/></g>
<g id="k20-14"><ellipse class="A" cx="761"/><use href="#L" x="761"/></g>
</g>
<g id="row21" transform="translate(0 1101)">
<g id="k21-1"><ellipse class="A" cx="85"/><use href="#R" x="85"/></g>
<g id="k21-2"><ellipse class="B" cx="137"/><use class="w" href="#R" x="137"/></g>
<g id="k21-3"><ellipse class="B" cx="189"/><use class="w" href="#R" x="189"/></g>
<g id="k21-4"><ellipse class="B" cx="241"/><use class="w" href="#R" x="241"/></g>
<g id="k21-5"><ellipse class="E" cx="293"/><use href="#R" x="293"/></g>
<g id="k21-6"><ellipse class="E" cx="345"/><use href="#R" x="345"/></g>
<g id="k21-7"><ellipse class="B" cx="397"/><use class="w" href="#R" x="397"/></g>
<g id="k21-8"><ellipse class="E" cx="449"/><use href="#R" x="449"/></g>
<g id="k21-9"><ellipse class="E" cx="501"/><use href="#R" x="501"/></g>
<g id="k21-10"><ellipse class="B" cx="553"/><use class="w" href="#R" x="553"/></g>
<g id="k21-11"><ellipse class="E" cx="605"/><use href="#R" x="605"/></g>
<g id="k21-12"><ellipse class="B" cx="657"/><use class="w" href="#R" x="657"/></g>
<g id="k21-13"><ellipse class="A" cx="709"/><use href="#R" x="709"/></g>
<g id="k21-14"><ellipse class="A" cx="761"/><use href="#R" x="761"/></g>
</g>
<g id="row22" transform="translate(0 1153)">
<g id="k22-1"><ellipse class="A" cx="85"/><use href="#L" x="85"/></g>
<g id="k22-2"><ellipse class="B" cx="137"/><use class="w" href="#L" x="137"/></g>
<g id="k22-3"><ellipse class="E" cx="189"/><use href="#L" x="189"/></g>
<g id="k22-4"><ellipse class="E" cx="241"/><use href="#L" x="241"/></g>
<g id="k22-5"><ellipse class="E" cx="293"/><use href="#L" x="293"/></g>
<g id="k22-6"><ellipse class="E" cx="345"/><use href="#L" x="345"/></g>
<g id="k22-7"><ellipse class="E" cx="397"/><use href="#L" x="397"/></g>
<g id="k22-8"><ellipse class="E" cx="449"/><use href="#L" x="449"/></g>
<g id="k22-9"><ellipse class="E" cx="501"/><use href="#L" x="501"/></g>
<g id="k22-10"><ellipse class="E" cx="553"/><use href="#L" x="553"/></g>
<g id="k22-11"><ellipse class="E" cx="605"/><use href="#L" x="605"/></g>
<g id="k22-12"><ellipse class="B" cx="657"/><use class="w" href="#L" x="657"/></g>
<g id="k22-13"><ellipse class="A" cx="709"/><use href="#L" x="709"/></g>
<g id="k22-14"><ellipse class="A" cx="761"/><use href="#L" x="761"/></g>
</g>
<g id="row23" transform="translate(0 1205)">
<g id="k23-1"><ellipse class="A" cx="85"/><use href="#R" x="85"/></g>
<g id="k23-2"><ellipse class="B" cx="137"/><use class="w" href="#R" x="137"/></g>
<g id="k23-3"><ellipse class="B" cx="189"/><use class="w" href="#R" x="189"/></g>
<g id="k23-4"><ellipse class="B" cx="241"/><use class="w" href="#R" x="241"/></g>
<g id="k23-5"><ellipse class="B" cx="293"/><use class="w" href="#R" x="293"/></g>
<g id="k23-6"><ellipse class="B" cx="345"/><use class="w" href="#R" x="345"/></g>
<g id="k23-7"><ellipse class="B" cx="397"/><use class="w" href="#R" x="397"/></g>
<g id="k23-8"><ellipse class="B" cx="449"/><use class="w" href="#R" x="449"/></g>
<g id="k23-9"><ellipse class="B" cx="501"/><use class="w" href="#R" x="501"/></g>
<g id="k23-10"><ellipse class="B" cx="553"/><use class="w" href="#R" x="553"/></g>
<g id="k23-11"><ellipse class="B" cx="605"/><use class="w" href="#R" x="605"/></g>
<g id="k23-12"><ellipse class="B" cx="657"/><use class="w" href="#R" x="657"/></g>
<g id="k23-13"><ellipse class="A" cx="709"/><use href="#R" x="709"/></g>
<g id="k23-14"><ellipse class="A" cx="761"/><use href="#R" x="761"/></g>
</g>
<g id="row24" transform="translate(0 1257)">
<g id="k24-1"><ellipse class="A" cx="85"/><use href="#L" x="85"/></g>
<g id="k24-2"><ellipse class="A" cx="137"/><use href="#L" x="137"/></g>
<g id="k24-3"><ellipse class="A" cx="189"/><use href="#L" x="189"/></g>
<g id="k24-4"><ellipse class="A" cx="241"/><use href="#L" x="241"/></g>
<g id="k24-5"><ellipse class="A" cx="293"/><use href="#L" x="293"/></g>
<g id="k24-6"><ellipse class="A" cx="345"/><use href="#L" x="345"/></g>
<g id="k24-7"><ellipse class="A" cx="397"/><use href="#L" x="397"/></g>
<g id="k24-8"><ellipse class="A" cx="449"/><use href="#L" x="449"/></g>
<g id="k24-9"><ellipse class="A" cx="501"/><use href="#L" x="501"/></g>
<g id="k24-10"><ellipse class="Y" cx="553"/><use href="#L" x="553"/></g>
<g id="k24-11"><ellipse class="A" cx="605"/><use href="#L" x="605"/></g>
<g id="k24-12"><ellipse class="A" cx="657"/><use href="#L" x="657"/></g>
<g id="k24-13"><ellipse class="A" cx="709"/><use href="#L" x="709"/></g>
<g id="k24-14"><ellipse class="Y" cx="761"/><use href="#L" x="761"/></g>
</g>
<g id="row25" transform="translate(0 1309)">
<g id="k25-1"><ellipse class="A" cx="85"/><use href="#R" x="85"/></g>
<g id="k25-2"><ellipse class="A" cx="137"/><use href="#R" x="137"/></g>
<g id="k25-3"><ellipse class="A" cx="189"/><use href="#R" x="189"/></g>
<g id="k25-4"><ellipse class="A" cx="241"/><use href="#R" x="241"/></g>
<g id="k25-5"><ellipse class="A" cx="293"/><use href="#R" x="293"/></g>
<g id="k25-6"><ellipse class="A" cx="345"/><use href="#R" x="345"/></g>
<g id="k25-7"><ellipse class="A" cx="397"/><use href="#R" x="397"/></g>
<g id="k25-8"><ellipse class="A" cx="449"/><use href="#R" x="449"/></g>
<g id="k25-9"><ellipse class="A" cx="501"/><use href="#R" x="501"/></g>
<g id="k25-10"><ellipse class="A" cx="553"/><use href="#R" x="553"/></g>
<g id="k25-11"><ellipse class="A" cx="605"/><use href="#R" x="605"/></g>
<g id="k25-12"><ellipse class="A" cx="657"/><use href="#R" x="657"/></g>
<g id="k25-13"><ellipse class="A" cx="709"/><use href="#R" x="709"/></g>
<g id="k25-14"><ellipse class="A" cx="761"/><use href="#R" x="761"/></g>
</g>
<g id="row26" transform="translate(0 1361)">
<g id="k26-1"><ellipse class="A" cx="85"/><use href="#L" x="85"/></g>
<g id="k26-2"><ellipse class="A" cx="137"/><use href="#L" x="137"/></g>
<g id="k26-3"><ellipse class="A" cx="189"/><use href="#L" x="189"/></g>
<g id="k26-4"><ellipse class="A" cx="241"/><use href="#L" x="241"/></g>
<g id="k26-5"><ellipse class="A" cx="293"/><use href="#L" x="293"/></g>
<g id="k26-6"><ellipse class="A" cx="345"/><use href="#L" x="345"/></g>
<g id="k26-7"><ellipse class="Y" cx="397"/><use href="#L" x="397"/></g>
<g id="k26-8"><ellipse class="A" cx="449"/><use href="#L" x="449"/></g>
<g id="k26-9"><ellipse class="A" cx="501"/><use href="#L" x="501"/></g>
<g id="k26-10"><ellipse class="A" cx="553"/><use href="#L" x="553"/></g>
<g id="k26-11"><ellipse class="A" cx="605"/><use href="#L" x="605"/></g>
<g id="k26-12"><ellipse class="A" cx="657"/><use href="#L" x="657"/></g>
<g id="k26-13"><ellipse class="A" cx="709"/><use href="#L" x="709"/></g>
<g id="k26-14"><ellipse class="A" cx="761"/><use href="#L" x="761"/></g>
</g>
</g>
<g id="labels">
<g class="num" text-anchor="end">
<text x="21" y="66">1</text><text x="21" y="118">2</text><text x="21" y="170">3</text><text x="21" y="222">4</text><text x="21" y="274">5</text><text x="21" y="326">6</text><text x="21" y="378">7</text><text x="21" y="430">8</text><text x="21" y="482">9</text><text x="21" y="534">10</text><text x="21" y="586">11</text><text x="21" y="638">12</text><text x="21" y="690">13</text><text x="21" y="742">14</text><text x="21" y="794">15</text><text x="21" y="846">16</text><text x="21" y="898">17</text><text x="21" y="950">18</text><text x="21" y="1002">19</text><text x="21" y="1054">20</text><text x="21" y="1106">21</text><text x="21" y="1158">22</text><text x="21" y="1210">23</text><text x="21" y="1262">24</text><text x="21" y="1314">25</text><text x="21" y="1366">26</text>
</g>
<g class="num">
<text x="822" y="66">1</text><text x="822" y="118">2</text><text x="822" y="170">3</text><text x="822" y="222">4</text><text x="822" y="274">5</text><text x="822" y="326">6</text><text x="822" y="378">7</text><text x="822" y="430">8</text><text x="822" y="482">9</text><text x="822" y="534">10</text><text x="822" y="586">11</text><text x="822" y="638">12</text><text x="822" y="690">13</text><text x="822" y="742">14</text><text x="822" y="794">15</text><text x="822" y="846">16</text><text x="822" y="898">17</text><text x="822" y="950">18</text><text x="822" y="1002">19</text><text x="822" y="1054">20</text><text x="822" y="1106">21</text><text x="822" y="1158">22</text><text x="822" y="1210">23</text><text x="822" y="1262">24</text><text x="822" y="1314">25</text><text x="822" y="1366">26</text>
</g>
<g class="lt">
<text x="35" y="65" fill="#000">A</text>
<text x="35" y="169" fill="#fff">G</text>
<text x="35" y="221" fill="#fff">C</text>
<text x="35" y="273" fill="#fff">B</text>
<text x="35" y="533" fill="#fff">G</text>
<text x="35" y="741" fill="#000">D</text>
<text x="35" y="1157" fill="#000">E</text>
<text x="35" y="1365" fill="#000">A</text>
<text x="810" y="221" fill="#fff">C</text>
<text x="810" y="325" fill="#000">D</text>
<text x="810" y="845" fill="#000">E</text>
<text x="810" y="1209" fill="#fff">B</text>
</g>
<text x="422" y="717" text-anchor="middle" font-family="Liberation Sans, Arial, sans-serif" font-weight="bold" font-size="13" fill="#474747" stroke="#fff" stroke-width="2" paint-order="stroke">BRACELETBOOK.COM</text>
</g>
</svg>
